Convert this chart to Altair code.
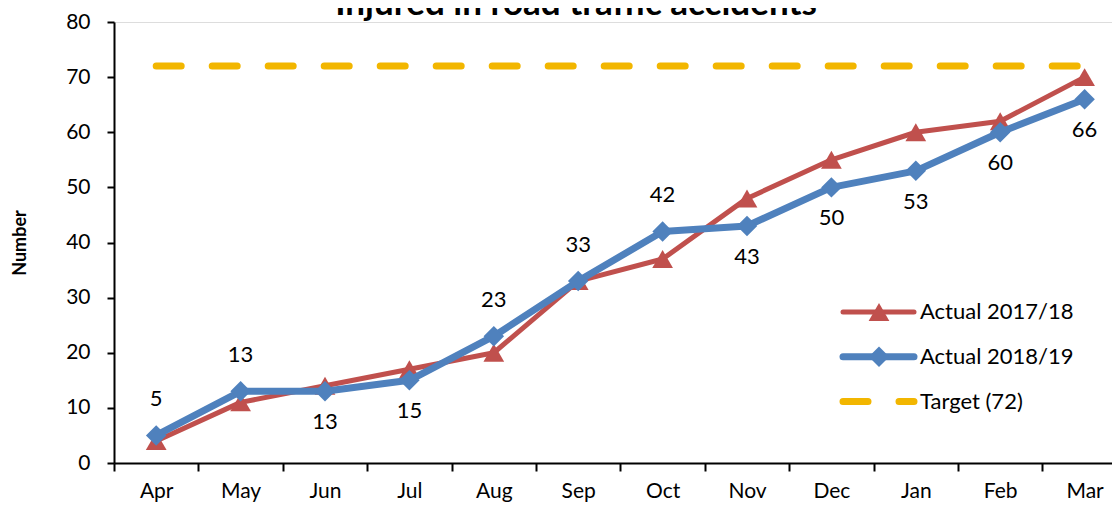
import altair as alt
import pandas as pd

months = ["Apr", "May", "Jun", "Jul", "Aug", "Sep", "Oct", "Nov", "Dec", "Jan", "Feb", "Mar"]
actual_1718 = [4, 11, 14, 17, 20, 33, 37, 48, 55, 60, 62, 70]
actual_1819 = [5, 13, 13, 15, 23, 33, 42, 43, 50, 53, 60, 66]
target_value = 72
label_side = ["above", "above", "below", "below", "above", "above", "above",
              "below", "below", "below", "below", "below"]
series_names = ["Actual 2017/18", "Actual 2018/19", "Target (72)"]

RED = "#C0504D"
BLUE = "#4F81BD"
GOLD = "#F2B600"
FONT = "Lato"

W, H = 998, 441
STEP = 84.4
x_domain = [-0.5, -0.5 + W / STEP]

df = pd.DataFrame({
    "idx": list(range(len(months))),
    "month": months,
    "a1718": actual_1718,
    "a1819": actual_1819,
    "side": label_side,
})
target_df = pd.DataFrame({"x0": [0], "x1": [len(months) - 1], "t": [target_value]})

month_js = "[" + ",".join("'%s'" % m for m in months) + "]"

x_axis = alt.Axis(
    values=[i - 0.5 for i in range(len(months))],
    labelExpr=month_js + "[datum.value + 0.5]",
    labelOffset=STEP / 2,
    labelFlush=False,
    labelOverlap=False,
    labelFont=FONT, labelFontSize=21, labelColor="black",
    labelPadding=9,
    tickSize=8, tickWidth=2, tickColor="black",
    domainWidth=2, domainColor="black",
    grid=False, title=None,
)
y_axis = alt.Axis(
    values=list(range(0, 81, 10)),
    labelFont=FONT, labelFontSize=21, labelColor="black",
    labelPadding=17,
    tickSize=7, tickWidth=2, tickColor="black",
    domainWidth=2, domainColor="black",
    grid=False,
    title="Number", titleFont=FONT, titleFontSize=18, titleFontWeight="bold",
    titleColor="black", titleAngle=-90, titleX=-94, titleY=H / 2,
    titleAlign="center", titleBaseline="middle",
)

xs = alt.Scale(domain=x_domain, nice=False, zero=False)
ys = alt.Scale(domain=[0, 80], nice=False)

base = alt.Chart(df)

red_line = base.mark_line(color=RED, strokeWidth=5, strokeJoin="round").encode(
    x=alt.X("idx:Q", scale=xs, axis=x_axis),
    y=alt.Y("a1718:Q", scale=ys, axis=y_axis),
)
red_pts = base.mark_point(shape="triangle-up", filled=True, color=RED, opacity=1, size=430).encode(
    x=alt.X("idx:Q", scale=xs), y=alt.Y("a1718:Q", scale=ys)
)
blue_line = base.mark_line(color=BLUE, strokeWidth=7, strokeJoin="round").encode(
    x=alt.X("idx:Q", scale=xs), y=alt.Y("a1819:Q", scale=ys)
)
blue_pts = base.mark_point(shape="diamond", filled=True, color=BLUE, opacity=1, size=420).encode(
    x=alt.X("idx:Q", scale=xs), y=alt.Y("a1819:Q", scale=ys)
)
target_rule = alt.Chart(target_df).mark_rule(
    color=GOLD, strokeWidth=7, strokeDash=[25, 31], strokeCap="round"
).encode(
    x=alt.X("x0:Q", scale=xs), x2="x1:Q", y=alt.Y("t:Q", scale=ys)
)

lab_above = base.transform_filter(alt.datum.side == "above").mark_text(
    font=FONT, fontSize=22, color="black", dy=-36, baseline="middle"
).encode(x=alt.X("idx:Q", scale=xs), y=alt.Y("a1819:Q", scale=ys), text="a1819:Q")
lab_below = base.transform_filter(alt.datum.side == "below").mark_text(
    font=FONT, fontSize=22, color="black", dy=31, baseline="middle"
).encode(x=alt.X("idx:Q", scale=xs), y=alt.Y("a1819:Q", scale=ys), text="a1819:Q")

# title (partly cut off at the top, as in the reference)
title = alt.Chart(pd.DataFrame({"t": ["Injured in road traffic accidents"]})).mark_text(
    font=FONT, fontSize=35, fontWeight="bold", color="black", align="center", baseline="alphabetic"
).encode(x=alt.value(462), y=alt.value(-7), text="t:N")

# legend
leg_df = pd.DataFrame({"name": series_names, "row": [0, 1, 2]})
LX0, LX1, LXM, LXT = 729, 800, 765, 806
leg_y = "290 + datum.row * 44.8"
legend_layers = []
styles = [
    (RED, 5, None, "triangle-up", 430),
    (BLUE, 7, None, "diamond", 420),
    (GOLD, 7, [25, 31], None, None),
]
for i, (col, sw, dash, shp, sz) in enumerate(styles):
    lb = alt.Chart(leg_df).transform_filter(alt.datum.row == i).transform_calculate(ly=leg_y)
    rule_kw = dict(color=col, strokeWidth=sw, strokeCap="round")
    if dash:
        rule_kw["strokeDash"] = dash
    legend_layers.append(lb.mark_rule(**rule_kw).encode(
        x=alt.value(LX0), x2=alt.value(LX1), y=alt.Y("ly:Q", scale=None)))
    if shp:
        legend_layers.append(lb.mark_point(shape=shp, filled=True, color=col, opacity=1, size=sz).encode(
            x=alt.value(LXM), y=alt.Y("ly:Q", scale=None)))
leg_text = alt.Chart(leg_df).transform_calculate(ly=leg_y).mark_text(
    font=FONT, fontSize=22, color="black", align="left", baseline="middle"
).encode(x=alt.value(LXT), y=alt.Y("ly:Q", scale=None), text="name:N")

chart = alt.layer(
    target_rule, red_line, red_pts, blue_line, blue_pts, lab_above, lab_below,
    title, *legend_layers, leg_text
).properties(
    width=W, height=H,
    autosize=alt.AutoSizeParams(type="none"),
    padding={"left": 106, "top": 14, "right": 0, "bottom": 40},
).configure_view(stroke=None).configure(background="white")

chart.save("out.html", embed_options={"renderer": "svg", "actions": False})
